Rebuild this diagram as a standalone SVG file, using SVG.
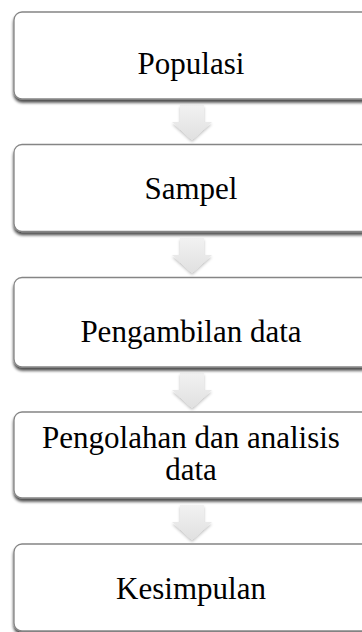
<svg xmlns="http://www.w3.org/2000/svg" width="362" height="632" viewBox="0 0 362 632">
  <defs>
    <filter id="boxShadow" x="-10%" y="-20%" width="120%" height="150%">
      <feGaussianBlur in="SourceAlpha" stdDeviation="1.5"/>
      <feOffset dx="0" dy="3" result="blur"/>
      <feComponentTransfer><feFuncA type="linear" slope="0.7"/></feComponentTransfer>
      <feMerge><feMergeNode/><feMergeNode in="SourceGraphic"/></feMerge>
    </filter>
    <filter id="arrowShadow" x="-30%" y="-30%" width="160%" height="170%">
      <feGaussianBlur in="SourceAlpha" stdDeviation="1.5"/>
      <feOffset dx="0" dy="2"/>
      <feComponentTransfer><feFuncA type="linear" slope="0.25"/></feComponentTransfer>
      <feMerge><feMergeNode/><feMergeNode in="SourceGraphic"/></feMerge>
    </filter>
    <linearGradient id="arrowFill" x1="0" y1="0" x2="0" y2="1">
      <stop offset="0" stop-color="#f2f2f2"/>
      <stop offset="1" stop-color="#e0e0e0"/>
    </linearGradient>
    <!-- down arrow shape, origin at shaft top centre -->
    <path id="downArrow" d="M-12,0 H12 V17 H20 L0,35 L-20,17 H-12 Z"/>
  </defs>
  <style>
    .box { fill: #ffffff; stroke: #858585; stroke-width: 1.3; filter: url(#boxShadow); }
    .label { font-family: "Liberation Serif", "Times New Roman", serif; font-size: 31px; fill: #000000; text-anchor: middle; }
    .arrow { fill: url(#arrowFill); filter: url(#arrowShadow); }
  </style>

  <g id="connectors">
    <use href="#downArrow" class="arrow" x="192" y="105"/>
    <use href="#downArrow" class="arrow" x="192" y="238"/>
    <use href="#downArrow" class="arrow" x="192" y="373"/>
    <use href="#downArrow" class="arrow" x="192" y="505"/>
  </g>

  <g id="populasi">
    <rect class="box" x="14" y="12" width="356" height="87" rx="8"/>
    <text class="label" x="191" y="74">Populasi</text>
  </g>

  <g id="sampel">
    <rect class="box" x="14" y="144.5" width="356" height="87" rx="8"/>
    <text class="label" x="191" y="199">Sampel</text>
  </g>

  <g id="pengambilan-data">
    <rect class="box" x="14" y="277.5" width="356" height="89.5" rx="8"/>
    <text class="label" x="191" y="341.5">Pengambilan data</text>
  </g>

  <g id="pengolahan-analisis">
    <rect class="box" x="14" y="412" width="356" height="86" rx="8"/>
    <text class="label" x="191" y="448">Pengolahan dan analisis</text>
    <text class="label" x="191" y="480">data</text>
  </g>

  <g id="kesimpulan">
    <rect class="box" x="14" y="544" width="356" height="87" rx="8"/>
    <text class="label" x="191" y="599">Kesimpulan</text>
  </g>
</svg>
